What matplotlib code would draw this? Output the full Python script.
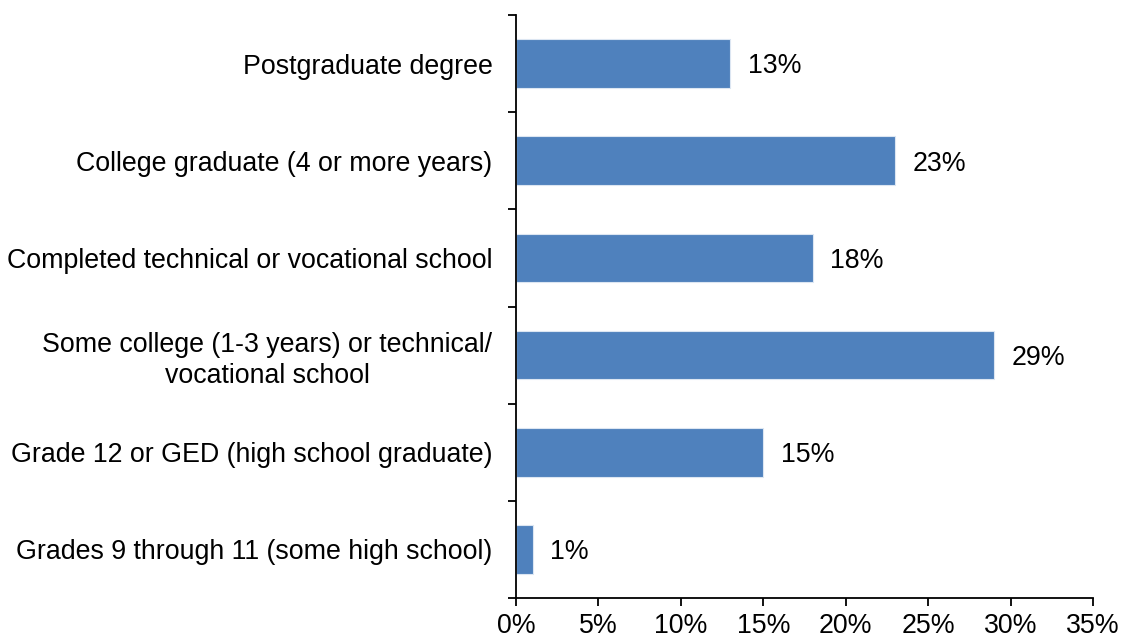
import matplotlib.pyplot as plt
import numpy as np

# data, top to bottom as shown in the chart
categories = [
    "Postgraduate degree",
    "College graduate (4 or more years)",
    "Completed technical or vocational school",
    "Some college (1-3 years) or technical/\nvocational school",
    "Grade 12 or GED (high school graduate)",
    "Grades 9 through 11 (some high school)",
]
values = [13, 23, 18, 29, 15, 1]
xticks = [0, 5, 10, 15, 20, 25, 30, 35]

plt.rcParams['font.family'] = ['Liberation Sans', 'DejaVu Sans']
fs = 19.3

fig = plt.figure(figsize=(11.23, 6.42), dpi=100)
ax = fig.add_axes([0.4595, 0.0685, 0.9733 - 0.4595, 0.9766 - 0.0685])

n = len(categories)
y = np.arange(n)[::-1]
ax.barh(y, values, height=0.5, color="#4F81BD", edgecolor="#DCE6F2", linewidth=0.8)

for yi, v in zip(y, values):
    ax.annotate(f"{v}%", (v, yi), xytext=(12.5, -2), textcoords="offset points",
                va="center", ha="left", fontsize=fs)

ax.set_xlim(0, 35)
ax.set_ylim(-0.5, n - 0.5)
ax.set_xticks(xticks)
ax.set_xticklabels([f"{t}%" for t in xticks], fontsize=fs)
ax.set_yticks(y)
ax.set_yticklabels(categories, fontsize=fs, ha="right", multialignment="center",
                   linespacing=1.25)
ax.set_yticks(np.arange(-0.5, n, 1.0), minor=True)

ax.tick_params(axis="y", which="major", length=0, pad=17)
ax.tick_params(axis="y", which="minor", length=6, width=1.3, direction="out")
ax.tick_params(axis="x", length=6, width=1.3, direction="out", pad=5)

for s in ["top", "right"]:
    ax.spines[s].set_visible(False)
for s in ["left", "bottom"]:
    ax.spines[s].set_linewidth(1.3)

fig.savefig("out.png", dpi=100)
